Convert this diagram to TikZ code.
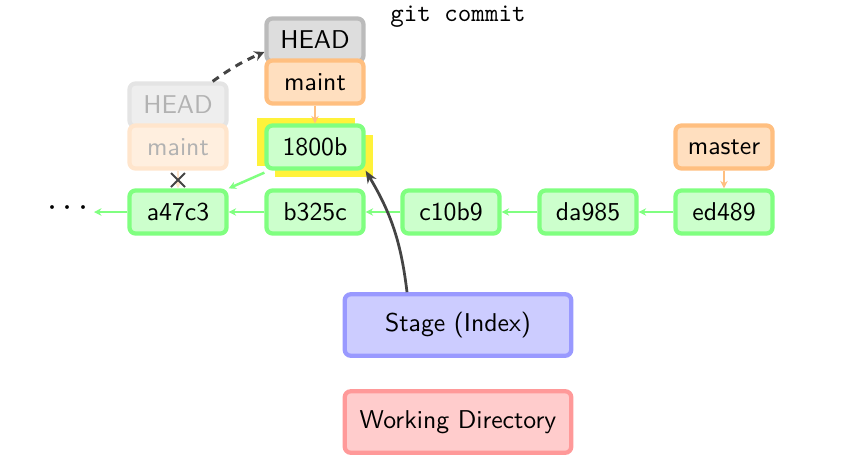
\documentclass[tikz,border=0pt]{standalone}
\usetikzlibrary{arrows.meta,calc}
\renewcommand{\familydefault}{\sfdefault}
\definecolor{cfill}{HTML}{CCFFCC}
\definecolor{cdraw}{HTML}{80FF80}
\definecolor{bfill}{HTML}{FFDFBF}
\definecolor{bdraw}{HTML}{FFBF80}
\definecolor{hfill}{HTML}{DDDDDD}
\definecolor{hdraw}{HTML}{BBBBBB}
\definecolor{sfill}{HTML}{CCCCFF}
\definecolor{sdraw}{HTML}{9999FF}
\definecolor{wfill}{HTML}{FFCCCC}
\definecolor{wdraw}{HTML}{FF9999}
\definecolor{hl}{HTML}{FFF23A}
\definecolor{dark}{HTML}{444444}
\begin{document}
\begin{tikzpicture}[x=0.4pt,y=-0.4pt,
  txt/.style={font=\fontsize{10.3}{12}\selectfont},
  box/.style={txt,rounded corners=2.4pt,line width=1.7pt,minimum width=38.8pt,minimum height=17.2pt,inner sep=1pt},
  commit/.style={box,fill=cfill,draw=cdraw},
  branch/.style={box,fill=bfill,draw=bdraw},
  headbox/.style={box,fill=hfill,draw=hdraw},
  oldhead/.style={box,fill=hfill!50,draw=hdraw!40,text=black!30},
  oldbranch/.style={box,fill=bfill!50,draw=bdraw!40,text=black!30},
  area/.style={txt,rounded corners=2.4pt,line width=1.7pt,minimum width=90.6pt,minimum height=24.6pt,inner sep=1pt},
  parent/.style={cdraw,line width=1pt,-{Stealth[length=3pt,width=3pt]}},
  ref/.style={bdraw,line width=1pt,-{Stealth[length=3pt,width=3pt]}}
]
\useasboundingbox (0,0) rectangle (852,469);
% highlight
\fill[hl] (257,118) rectangle (355,166);
\fill[hl] (275,135) rectangle (373,177);
% commits
\node[commit] (a47c3) at (178,212) {a47c3};
\node[commit] (b325c) at (315,212) {b325c};
\node[commit] (c10b9) at (451,212) {c10b9};
\node[commit] (da985) at (588,212) {da985};
\node[commit] (ed489) at (724,212) {ed489};
\node[commit] (n1800b) at (315,147) {1800b};
\node[font=\Large] (dots) at (68,208) {$\cdots$};
\coordinate (dotsend) at (94,212);
% branches
\node[branch] (master) at (724,147) {master};
\node[oldhead] (oldHEAD) at (178,105) {HEAD};
\node[oldbranch] (oldmaint) at (178,147) {maint};
\node[headbox] (HEAD) at (315,40) {HEAD};
\node[branch] (maint) at (315,82) {maint};
% areas
\node[area,fill=sfill,draw=sdraw] (stage) at (458,325) {Stage (Index)};
\node[area,fill=wfill,draw=wdraw] (work) at (458,422) {Working Directory};
% git commit
\node[font=\ttfamily\fontsize{10.3}{12}\selectfont] (cmd) at (458,17) {git commit};
% parent arrows
\draw[parent] (a47c3) -- (dotsend);
\draw[parent] (b325c) -- (a47c3);
\draw[parent] (c10b9) -- (b325c);
\draw[parent] (da985) -- (c10b9);
\draw[parent] (ed489) -- (da985);
\draw[parent] ($(n1800b.south west)+(0,2)$) -- (a47c3.north east);
% refs
\draw[ref] (master) -- (ed489);
\draw[ref] (maint) -- (n1800b);
\draw[bdraw!40,line width=1pt,-{Stealth[length=3pt,width=3pt]}] (oldmaint) -- (a47c3);
% cross
\coordinate (x) at (178,180);
\draw[dark,line width=0.8pt] ($(x)+(-7,-7)$) -- ($(x)+(7,7)$) ($(x)+(-7,7)$) -- ($(x)+(7,-7)$);
% dashed HEAD move
\draw[dark,line width=1.2pt,dash pattern=on 3pt off 2.5pt,-{Stealth[length=4pt,width=4pt]}] ($(oldHEAD.north east)+(-16,0)$) to[bend left=6] (HEAD.west |- 0,52);
% stage to commit
\draw[dark,line width=1.1pt,-{Stealth[length=5pt,width=4pt]}] ($(stage.north)+(-51,0)$) to[bend right=12] (n1800b.south east);
\end{tikzpicture}
\end{document}
